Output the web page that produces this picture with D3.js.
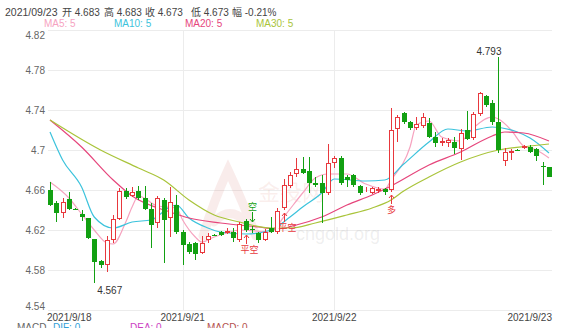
<!DOCTYPE html>
<html lang="zh">
<head>
<meta charset="utf-8">
<title>2021/09/23 K线</title>
<script src="https://cdn.jsdelivr.net/npm/d3@7"></script>
<style>
  body { margin: 0; background: #fff; }
  svg text { font-family: "Liberation Sans", Arial, "Noto Sans CJK SC", sans-serif; }
</style>
</head>
<body>
<script>

// candles (index 0 = first bar on the left)
var opens  = [4.660,4.647,4.637,4.651,4.641,4.636,4.632,4.611,4.589,4.585,
              4.610,4.631,4.659,4.654,4.659,4.652,4.641,4.627,4.650,4.632,
              4.645,4.618,4.606,4.607,4.597,4.610,4.615,4.618,4.617,4.618,
              4.610,4.629,4.621,4.617,4.610,4.622,4.618,4.642,4.664,4.676,
              4.681,4.679,4.667,4.667,4.657,4.687,4.692,4.673,4.675,4.664,
              4.660,4.657,4.659,4.661,4.660,4.721,4.737,4.728,4.722,4.724,
              4.727,4.713,4.707,4.707,4.708,4.701,4.720,4.712,4.736,4.754,
              4.747,4.728,4.689,4.697,4.700,4.702,4.703,4.701,4.684,4.683];
var highs  = [4.668,4.649,4.652,4.658,4.642,4.640,4.632,4.611,4.590,4.614,
              4.635,4.662,4.662,4.663,4.664,4.664,4.647,4.654,4.652,4.663,
              4.655,4.620,4.608,4.608,4.614,4.617,4.616,4.619,4.622,4.622,
              4.628,4.631,4.624,4.618,4.621,4.633,4.642,4.671,4.678,4.692,
              4.693,4.693,4.673,4.675,4.706,4.694,4.694,4.675,4.676,4.665,
              4.663,4.663,4.663,4.662,4.742,4.735,4.738,4.729,4.733,4.737,
              4.732,4.718,4.712,4.712,4.713,4.721,4.739,4.738,4.758,4.755,
              4.750,4.793,4.702,4.701,4.701,4.705,4.705,4.702,4.688,4.683];
var lows   = [4.644,4.628,4.632,4.640,4.640,4.629,4.611,4.567,4.582,4.578,
              4.607,4.630,4.651,4.653,4.650,4.640,4.602,4.622,4.587,4.613,
              4.616,4.585,4.596,4.590,4.596,4.607,4.614,4.614,4.616,4.608,
              4.608,4.618,4.617,4.607,4.609,4.617,4.616,4.640,4.662,4.673,
              4.676,4.657,4.663,4.627,4.655,4.682,4.665,4.663,4.663,4.655,
              4.658,4.656,4.657,4.655,4.658,4.708,4.726,4.720,4.720,4.722,
              4.712,4.703,4.704,4.703,4.696,4.690,4.710,4.710,4.734,4.743,
              4.725,4.697,4.684,4.690,4.699,4.701,4.697,4.689,4.665,4.673];
var closes = [4.645,4.637,4.648,4.641,4.641,4.633,4.612,4.588,4.585,4.610,
              4.631,4.659,4.653,4.658,4.652,4.641,4.625,4.652,4.630,4.648,
              4.618,4.605,4.598,4.596,4.607,4.614,4.615,4.615,4.619,4.612,
              4.626,4.620,4.620,4.610,4.618,4.618,4.639,4.665,4.675,4.681,
              4.677,4.667,4.665,4.657,4.687,4.692,4.667,4.670,4.665,4.657,
              4.661,4.662,4.661,4.658,4.720,4.733,4.728,4.722,4.726,4.733,
              4.713,4.707,4.709,4.710,4.702,4.717,4.711,4.736,4.757,4.745,
              4.728,4.700,4.698,4.699,4.700,4.704,4.698,4.694,4.683,4.673];

// moving averages, as [bar index, value]
var ma5  = [[0,4.668],[3,4.652],[5,4.636],[7,4.620],[9,4.607],[10,4.606],[12,4.628],[13,4.643],
            [14,4.654],[17,4.644],[20,4.642],[21,4.630],[23,4.613],[24,4.608],[26,4.613],[28,4.617],
            [30,4.620],[35,4.618],[37,4.633],[40,4.657],[42,4.672],[44,4.676],[47,4.676],[50,4.666],
            [53,4.661],[54,4.670],[57,4.703],[58,4.725],[60,4.729],[62,4.713],[65,4.709],[67,4.722],
            [70,4.733],[71,4.731],[73,4.720],[75,4.704],[77,4.700],[79,4.692]];
var ma10 = [[0,4.718],[2,4.690],[5,4.663],[7,4.633],[10,4.622],[13,4.628],[16,4.630],[19,4.643],
            [20,4.645],[22,4.632],[25,4.622],[27,4.618],[31,4.616],[35,4.620],[38,4.633],[40,4.643],
            [43,4.657],[45,4.671],[50,4.669],[53,4.670],[56,4.686],[60,4.708],[63,4.721],[66,4.719],
            [70,4.723],[74,4.718],[76,4.712],[79,4.697]];
var ma20 = [[0,4.730],[5,4.703],[10,4.670],[13,4.654],[19,4.638],[22,4.632],[27,4.627],[33,4.623],
            [36,4.621],[39,4.625],[43,4.633],[47,4.645],[51,4.655],[54,4.664],[60,4.685],[65,4.698],
            [70,4.714],[72,4.718],[75,4.717],[79,4.709]];
var ma30 = [[0,4.730],[8,4.700],[14,4.682],[18,4.670],[22,4.650],[26,4.635],[30,4.628],[35,4.622],
            [38,4.622],[42,4.627],[47,4.635],[51,4.642],[54,4.650],[56,4.659],[60,4.673],[65,4.688],
            [71,4.700],[76,4.704],[79,4.706]];

var maNames  = ["MA5: 5", "MA10: 5", "MA20: 5", "MA30: 5"];
var maColors = ["#f6a3bf", "#3cc3dc", "#e6467c", "#a9c43a"];

var yTicks = [4.54, 4.58, 4.62, 4.66, 4.70, 4.74, 4.78, 4.82];
var dateLabels = ["2021/9/18", "2021/9/21", "2021/9/22", "2021/9/23"];
var dateIdx    = [0, 21, 45, 79];

var headDate  = "2021/09/23";
var headKeys  = ["开", "高", "收", "低", "幅"];
var headVals  = ["4.683", "4.683", "4.673", "4.673", "-0.21%"];

// trade signals
var sigIdx  = [31, 32, 37, 54];
var sigText = ["平空", "空", "平空", "多"];
var sigSide = ["below", "above", "below", "below"];

var RED = "#e8383d", GREEN = "#12a012";

var w = 561, h = 328;
var left = 48, right = 552;

var svg = d3.select("body").append("svg")
            .attr("width", w)
            .attr("height", h);

var x = d3.scaleLinear().domain([0, closes.length - 1]).range([50, 549]);
var y = d3.scaleLinear().domain([4.54, 4.82]).range([310, 30]);
var px = function(i) { return Math.round(x(i)); };

// header
var head = svg.append("g").attr("font-size", "10px").attr("fill", "#444");
head.append("text").attr("x", 5).attr("y", 16).attr("font-size", "10.5px").text(headDate);
var headX = [62, 104, 145, 191, 232];
headKeys.forEach(function(k, i) {
    head.append("text").attr("x", headX[i]).attr("y", 16).text(k + " " + headVals[i]);
});

// legend
var legX = [44, 114, 185, 256];
svg.append("g").selectAll("text")
   .data(maNames)
   .enter()
   .append("text")
   .attr("x", function(d, i) { return legX[i]; })
   .attr("y", 27)
   .attr("font-size", "10px")
   .attr("fill", function(d, i) { return maColors[i]; })
   .text(function(d) { return d; });

// y axis + horizontal grid
var yAxis = svg.append("g")
   .attr("transform", "translate(" + left + ",0)")
   .call(d3.axisLeft(y).tickValues(yTicks).tickSize(-(right - left)).tickPadding(3)
           .tickFormat(d3.format(".2~f")));
yAxis.select(".domain").remove();
yAxis.selectAll("line").attr("stroke", "#ececec");
yAxis.selectAll("text").attr("fill", "#666").attr("font-size", "10px")
     .attr("font-family", null)
     .attr("dy", function(d) { return d === 4.82 ? "0.8em" : (d === 4.54 ? "-0.05em" : "0.32em"); });

// vertical grid at day starts
svg.append("g").selectAll("line")
   .data(dateIdx.slice(1, 3))
   .enter()
   .append("line")
   .attr("x1", function(d) { return px(d) + 0.5; })
   .attr("x2", function(d) { return px(d) + 0.5; })
   .attr("y1", 30)
   .attr("y2", 310)
   .attr("stroke", "#ececec");

// date labels
svg.append("g").selectAll("text")
   .data(dateLabels)
   .enter()
   .append("text")
   .attr("x", function(d, i) { return i === 0 ? left - 1 : (i === 3 ? right : x(dateIdx[i])); })
   .attr("y", 321)
   .attr("text-anchor", function(d, i) { return i === 0 ? "start" : (i === 3 ? "end" : "middle"); })
   .attr("font-size", "10px")
   .attr("fill", "#444")
   .text(function(d) { return d; });

// watermark
var wm = svg.append("g").attr("pointer-events", "none");
wm.append("path")
  .attr("d", "M203,236 Q214,200 228,170 Q242,200 256,236 M214,222 Q230,205 246,222")
  .attr("fill", "none")
  .attr("stroke", "rgba(215,120,110,0.14)")
  .attr("stroke-width", 9)
  .attr("stroke-linecap", "round");
wm.append("text").attr("x", 258).attr("y", 200).attr("font-size", "22px")
  .attr("fill", "rgba(215,120,110,0.13)").text("金投网");
wm.append("text").attr("x", 296).attr("y", 240).attr("font-size", "18px")
  .attr("fill", "rgba(140,140,140,0.15)").text("cngold.org");

// moving average lines
var line = d3.line()
             .x(function(d) { return x(d[0]); })
             .y(function(d) { return y(d[1]); })
             .curve(d3.curveMonotoneX);
var mas = [ma5, ma10, ma20, ma30];
svg.append("g").selectAll("path")
   .data(mas)
   .enter()
   .append("path")
   .attr("d", line)
   .attr("fill", "none")
   .attr("stroke", function(d, i) { return maColors[i]; })
   .attr("stroke-width", 1.2);

// candles
var idx = d3.range(closes.length);
var isUp = function(i) { return closes[i] > opens[i]; };
var gC = svg.append("g");

gC.selectAll("line")
  .data(idx)
  .enter()
  .append("line")
  .attr("x1", function(i) { return px(i) + 0.5; })
  .attr("x2", function(i) { return px(i) + 0.5; })
  .attr("y1", function(i) { return Math.round(y(highs[i])); })
  .attr("y2", function(i) { return Math.round(y(lows[i])); })
  .attr("stroke", function(i) { return isUp(i) ? RED : GREEN; });

gC.selectAll("rect")
  .data(idx)
  .enter()
  .append("rect")
  .each(function(i) {
      var top = Math.round(y(Math.max(opens[i], closes[i])));
      var bot = Math.round(y(Math.min(opens[i], closes[i])));
      var r = d3.select(this);
      if (isUp(i)) {
          r.attr("x", px(i) - 1.5).attr("width", 4)
           .attr("y", top + 0.5).attr("height", Math.max(bot - top - 1, 0))
           .attr("fill", "#fff").attr("stroke", RED);
      } else {
          r.attr("x", px(i) - 2).attr("width", 5)
           .attr("y", top).attr("height", Math.max(bot - top, 1))
           .attr("fill", GREEN);
      }
  });

// max / min labels
var iMax = d3.maxIndex(highs), iMin = d3.minIndex(lows);
svg.append("text")
   .attr("x", x(iMax) + 3).attr("y", y(highs[iMax]) - 2)
   .attr("text-anchor", "end").attr("font-size", "10px").attr("fill", "#333")
   .text(highs[iMax].toFixed(3));
svg.append("text")
   .attr("x", x(iMin) + 3).attr("y", y(lows[iMin]) + 11)
   .attr("font-size", "10px").attr("fill", "#333")
   .text(lows[iMin].toFixed(3));

// signal markers
var gS = svg.append("g");
sigIdx.forEach(function(i, k) {
    var col = sigText[k] === "空" ? GREEN : RED;
    var cx = px(i) + 0.5;
    var a1, a2, ty, tip;
    if (sigSide[k] === "below") {
        a1 = Math.round(y(lows[i])) + 3; a2 = a1 + 9; tip = a1; ty = a1 + 18;
    } else {
        a1 = Math.round(y(highs[i])) - 4; a2 = a1 - 10; tip = a1; ty = a2 - 2;
    }
    gS.append("line").attr("x1", cx).attr("x2", cx).attr("y1", a1).attr("y2", a2)
      .attr("stroke", col);
    var dir = sigSide[k] === "below" ? 1 : -1;
    gS.append("path")
      .attr("d", "M" + (cx - 2.5) + "," + (tip + 3 * dir) + "L" + cx + "," + tip + "L" + (cx + 2.5) + "," + (tip + 3 * dir))
      .attr("fill", "none").attr("stroke", col);
    gS.append("text").attr("x", cx + (sigText[k].length > 1 ? 3 : 0)).attr("y", ty)
      .attr("text-anchor", "middle").attr("font-size", "9px").attr("fill", col)
      .text(sigText[k]);
});

// MACD header (cut off by the frame)
var macdText  = ["MACD", "DIF: 0", "DEA: 0", "MACD: 0"];
var macdX     = [17, 53, 130, 207];
var macdColor = ["#666", "#2f9fd8", "#cc3fc4", "#b5524f"];
svg.append("g").selectAll("text")
   .data(macdText)
   .enter()
   .append("text")
   .attr("x", function(d, i) { return macdX[i]; })
   .attr("y", 331)
   .attr("font-size", "10px")
   .attr("fill", function(d, i) { return macdColor[i]; })
   .text(function(d) { return d; });

</script>
</body>
</html>
